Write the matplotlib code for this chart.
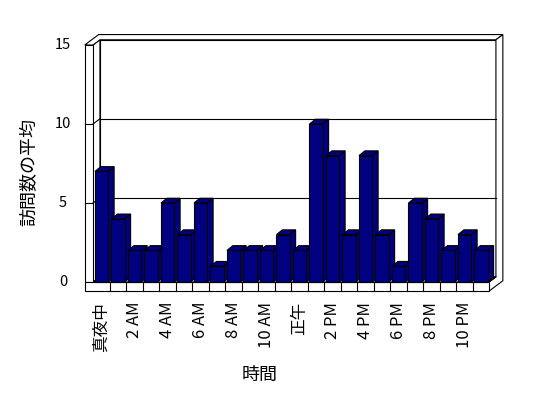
import matplotlib
matplotlib.use("Agg")
import matplotlib.pyplot as plt
from matplotlib.patches import Polygon, Rectangle

plt.rcParams['font.family'] = ['Noto Sans CJK JP', 'DejaVu Sans']

# ---- data ----
hours = ["0", "1", "2", "3", "4", "5", "6", "7", "8", "9", "10", "11",
         "12", "13", "14", "15", "16", "17", "18", "19", "20", "21", "22", "23"]
visits = [7, 4, 2, 2, 5, 3, 5, 1, 2, 2, 2, 3, 2, 10, 8, 3, 8, 3, 1, 5, 4, 2, 3, 2]
x_tick_labels = ["真夜中", "2 AM", "4 AM", "6 AM", "8 AM", "10 AM",
                 "正午", "2 PM", "4 PM", "6 PM", "8 PM", "10 PM"]
y_ticks = [0, 5, 10, 15]
x_title = "時間"
y_title = "訪問数の平均"

# ---- layout (pixel mapping of the category/value scales) ----
W, H = 548, 398
x0_px, cat_px = 93.0, 16.5      # pixel of category 0, pixels per category
y0_px, val_px = 282.0, 15.8     # pixel of value 0, pixels per unit
ymax = 15
n = len(visits)

navy = "#000080"
lw = 0.8
dx, dy = 0.42, 0.33       # wall depth step
bdx, bdy = 0.36, 0.30     # bar depth
wall_t = 0.5              # left wall thickness (categories)
floor_t = 0.58            # floor thickness (value units)
b_l, b_r = 0.12, 0.92     # bar extent within a category

fig = plt.figure(figsize=(W / 100, H / 100), dpi=100)
ax = fig.add_axes([0, 0, 1, 1])
ax.set_xlim(-x0_px / cat_px, (W - x0_px) / cat_px)
ax.set_ylim((y0_px - H) / val_px, y0_px / val_px)
ax.axis("off")

def poly(pts, fc="white", ec="black", z=1):
    ax.add_patch(Polygon(pts, closed=True, facecolor=fc, edgecolor=ec,
                         linewidth=lw, zorder=z, joinstyle="miter"))

# back wall
poly([(dx, dy), (n + dx, dy), (n + dx, ymax + dy), (dx, ymax + dy)], z=1)
for v in y_ticks[1:-1]:
    ax.plot([dx, n + dx], [v + dy, v + dy], color="black", lw=lw, zorder=1.5)
# left wall inner face
poly([(0, 0), (dx, dy), (dx, ymax + dy), (0, ymax)], z=1)
for v in y_ticks[1:-1]:
    ax.plot([0, dx], [v, v + dy], color="black", lw=lw, zorder=1.5)
# top of walls
poly([(-wall_t, ymax), (0, ymax), (dx, ymax + dy), (n + dx, ymax + dy),
      (n + 2 * dx, ymax + 2 * dy), (-wall_t + 2 * dx, ymax + 2 * dy)], z=1)
# right side face
poly([(n, -floor_t), (n, 0), (n + dx, dy), (n + dx, ymax + dy),
      (n + 2 * dx, ymax + 2 * dy), (n + 2 * dx, -floor_t + 2 * dy)], z=1)
ax.plot([n, n + dx], [0, dy], color="black", lw=lw, zorder=1.5)
# floor top
poly([(0, 0), (n, 0), (n + dx, dy), (dx, dy)], z=1)
# left wall front face
poly([(-wall_t, 0), (0, 0), (0, ymax), (-wall_t, ymax)], z=1)
for v in y_ticks[1:-1]:
    ax.plot([-wall_t, 0], [v, v], color="black", lw=lw, zorder=1.5)
# floor front face with category divisions
poly([(-wall_t, -floor_t), (n, -floor_t), (n, 0), (-wall_t, 0)], z=1)
for i in range(1, n):
    ax.plot([i, i], [-floor_t, 0], color="black", lw=lw, zorder=1.5)

# bars
for i, v in enumerate(visits):
    l, r = i + b_l, i + b_r
    z = 3 + i * 0.01
    poly([(r, 0), (r + bdx, bdy), (r + bdx, v + bdy), (r, v)], fc=navy, z=z)
    poly([(l, v), (r, v), (r + bdx, v + bdy), (l + bdx, v + bdy)], fc=navy, z=z)
    ax.add_patch(Rectangle((l, 0), r - l, v, facecolor=navy, edgecolor="black",
                           linewidth=lw, zorder=z + 0.005))

# y tick labels
yl_x = (63 - x0_px) / cat_px
for v in y_ticks:
    ax.text(yl_x, v, str(v), ha="center", va="center", fontsize=10.5)

# x tick labels (every second hour)
xl_y = (y0_px - 302) / val_px
for k, lab in enumerate(x_tick_labels):
    ax.text(2 * k + 0.5, xl_y, lab, rotation=90, ha="center", va="top",
            fontsize=12)

# axis titles
ax.text((260 - x0_px) / cat_px, (y0_px - 375) / val_px, x_title,
        ha="center", va="center", fontsize=13)
ax.text((29 - x0_px) / cat_px, (y0_px - 172) / val_px, y_title,
        rotation=90, ha="center", va="center", fontsize=13)

fig.savefig("out.png", dpi=100)
